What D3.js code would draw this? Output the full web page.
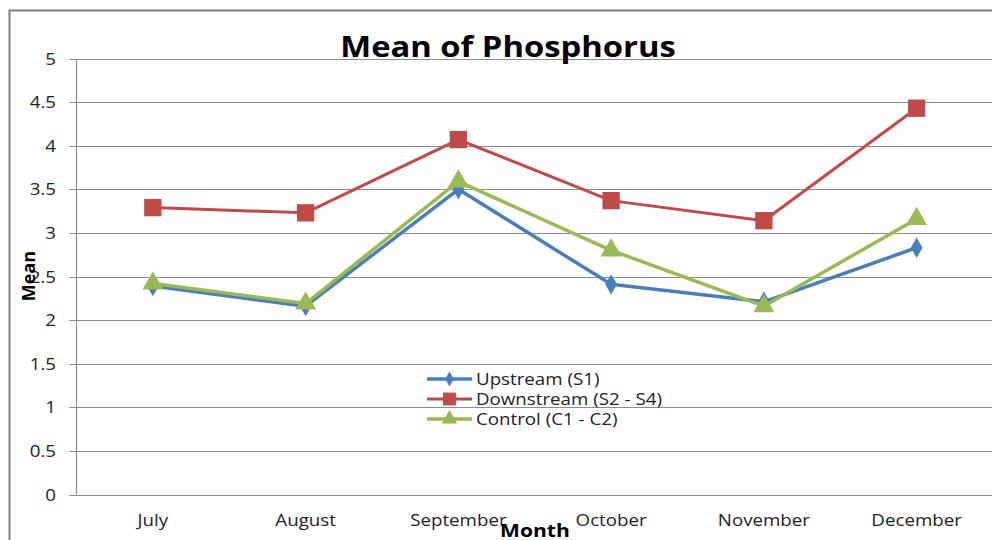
<!DOCTYPE html>
<html>
<head>
<meta charset="utf-8">
<script src="https://cdn.jsdelivr.net/npm/d3@7"></script>
<style>
  body { margin: 0; background: #fff; font-family: "Open Sans", "Liberation Sans", sans-serif; }
  svg { display: block; }
</style>
</head>
<body>
<svg id="my-svg"></svg>
<script>
// data
var months = ["July", "August", "September", "October", "November", "December"];
var upstream = [2.39, 2.16, 3.50, 2.41, 2.21, 2.83];
var downstream = [3.29, 3.23, 4.07, 3.37, 3.14, 4.43];
var control = [2.42, 2.19, 3.59, 2.80, 2.16, 3.16];
var yTicks = [0, 0.5, 1, 1.5, 2, 2.5, 3, 3.5, 4, 4.5, 5];

var series = [
    {name: "Upstream (S1)", values: upstream, color: "#4A7EBB", shape: d3.symbolDiamond, size: 120, width: 3.5},
    {name: "Downstream (S2 - S4)", values: downstream, color: "#BE4B48", shape: d3.symbolSquare, size: 300, width: 3},
    {name: "Control (C1 - C2)", values: control, color: "#98B954", shape: d3.symbolTriangle, size: 190, width: 3.5}
];

var vWidth = 992, vHeight = 540;
var stretch = 1.17; // the source picture is a bit wider than tall
var svg = d3.select("#my-svg").attr("width", vWidth).attr("height", vHeight);

// outer chart frame
svg.append("rect")
    .attr("x", 9.5).attr("y", 10.5)
    .attr("width", 1000).attr("height", 600)
    .attr("fill", "none").attr("stroke", "#7f7f7f").attr("stroke-width", 2);

var pLeft = 76.5, pRight = 993, pTop = 58.5, pBottom = 494.5;

var x = d3.scaleBand().domain(months).range([pLeft, pRight]);
var y = d3.scaleLinear().domain([0, 5]).range([pBottom, pTop]);

// gridlines
svg.append("g").selectAll("line").data(yTicks).enter().append("line")
    .attr("x1", pLeft - 7).attr("x2", pRight)
    .attr("y1", d => Math.round(y(d)) + 0.5).attr("y2", d => Math.round(y(d)) + 0.5)
    .attr("stroke", "#8c8c8c").attr("stroke-width", 1.2);

// y axis line
svg.append("line")
    .attr("x1", pLeft).attr("x2", pLeft).attr("y1", pTop).attr("y2", pBottom)
    .attr("stroke", "#8c8c8c").attr("stroke-width", 1.2);

// y tick labels
svg.append("g").selectAll("text").data(yTicks).enter().append("text")
    .attr("class", "wide")
    .attr("x", 56).attr("y", d => y(d) + 6)
    .attr("text-anchor", "end")
    .attr("font-size", 16).attr("fill", "#222")
    .text(d => d);

// x tick labels
svg.append("g").selectAll("text").data(months).enter().append("text")
    .attr("class", "wide")
    .attr("x", d => x(d) + x.bandwidth() / 2).attr("y", 526)
    .attr("text-anchor", "middle")
    .attr("font-size", 16).attr("fill", "#222")
    .text(d => d);

// title + axis titles
svg.append("text").attr("class", "wide").attr("x", 508).attr("y", 57)
    .attr("text-anchor", "middle").attr("font-size", 28).attr("font-weight", "bold")
    .text("Mean of Phosphorus");
svg.append("text").attr("transform", "translate(35,276) rotate(-90)")
    .attr("text-anchor", "middle").attr("font-size", 18).attr("font-weight", "bold")
    .text("Mean");
svg.append("text").attr("class", "wide").attr("x", 535).attr("y", 537)
    .attr("text-anchor", "middle").attr("font-size", 18).attr("font-weight", "bold")
    .text("Month");

var line = d3.line()
    .x((d, i) => x(months[i]) + x.bandwidth() / 2)
    .y(d => y(d));

series.forEach(function (s) {
    svg.append("path")
        .attr("d", line(s.values))
        .attr("fill", "none").attr("stroke", s.color)
        .attr("stroke-width", s.width).attr("stroke-linejoin", "round");
    svg.append("g").selectAll("path").data(s.values).enter().append("path")
        .attr("d", d3.symbol().type(s.shape).size(s.size))
        .attr("transform", (d, i) => "translate(" + (x(months[i]) + x.bandwidth() / 2) + "," + y(d) + ")")
        .attr("fill", s.color);
});

// legend
var legend = svg.append("g").attr("transform", "translate(427,379)");
series.forEach(function (s, i) {
    var g = legend.append("g").attr("transform", "translate(0," + (i * 20) + ")");
    g.append("line").attr("x1", 0).attr("x2", 45).attr("y1", 0).attr("y2", 0)
        .attr("stroke", s.color).attr("stroke-width", s.width);
    g.append("path").attr("d", d3.symbol().type(s.shape).size(s.size * 0.55))
        .attr("transform", "translate(22.5,0)").attr("fill", s.color);
    g.append("text").attr("class", "wide").attr("x", 49).attr("y", 6)
        .attr("font-size", 16).attr("fill", "#222")
        .text(s.name);
});

// widen the glyphs like in the reference
svg.selectAll("text.wide").each(function () {
    var len = this.getComputedTextLength();
    d3.select(this).attr("textLength", len * stretch).attr("lengthAdjust", "spacingAndGlyphs");
});
</script>
</body>
</html>
